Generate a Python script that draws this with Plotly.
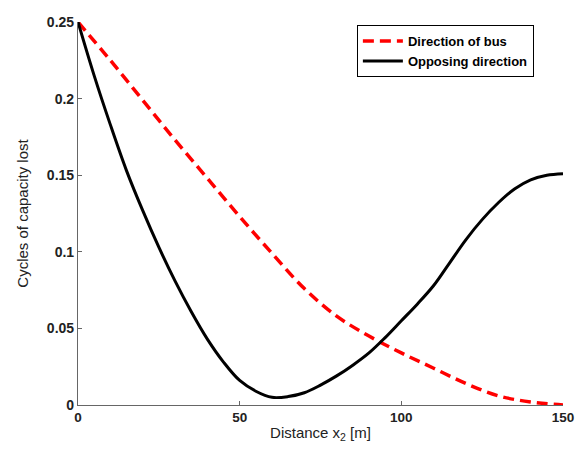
import plotly.graph_objects as go

# Direction of bus (red dashed)
bus_x = [0, 10, 20, 30, 40, 50, 60, 70, 80, 90, 100, 110, 120, 130, 140, 150]
bus_y = [0.250, 0.225, 0.199, 0.173, 0.148, 0.123, 0.099, 0.076, 0.058, 0.045,
         0.034, 0.024, 0.014, 0.006, 0.002, 0.000]

# Opposing direction (black solid)
opp_x = [0, 5, 10, 15, 20, 25, 30, 35, 40, 45, 50, 55, 60, 65, 70, 75, 80, 85,
         90, 95, 100, 105, 110, 115, 120, 125, 130, 135, 140, 145, 150]
opp_y = [0.250, 0.215, 0.183, 0.153, 0.127, 0.103, 0.081, 0.061, 0.043, 0.028,
         0.016, 0.009, 0.005, 0.0055, 0.008, 0.013, 0.019, 0.026, 0.034, 0.044,
         0.055, 0.066, 0.078, 0.093, 0.108, 0.121, 0.132, 0.141, 0.147, 0.150, 0.151]

x_ticks = [0, 50, 100, 150]
y_ticks = [0, 0.05, 0.1, 0.15, 0.2, 0.25]
y_tick_labels = ["0", "0.05", "0.1", "0.15", "0.2", "0.25"]

fig = go.Figure()
fig.add_trace(go.Scatter(x=bus_x, y=bus_y, mode="lines", name="Direction of bus",
                         line=dict(color="#ff0000", width=3.5, dash="11px,6px", shape="spline")))
fig.add_trace(go.Scatter(x=opp_x, y=opp_y, mode="lines", name="Opposing direction",
                         line=dict(color="#000000", width=3, shape="spline")))

axis_common = dict(showline=True, linecolor="#666666", linewidth=1.2, mirror=False,
                   ticks="inside", ticklen=4, tickcolor="#666666", showgrid=False,
                   zeroline=False, automargin=False)

fig.update_layout(
    width=567, height=440,
    margin=dict(l=70, r=12, t=14, b=43),
    paper_bgcolor="white", plot_bgcolor="white",
    font=dict(family="Arial", color="#222222"),
    xaxis=dict(range=[0, 150], tickvals=x_ticks, ticktext=[str(t) for t in x_ticks],
               tickfont=dict(family="Arial", size=13.5, color="#222222", weight="bold"),
               title=dict(text="Distance x<sub>2</sub> [m]", font=dict(size=15), standoff=3),
               **axis_common),
    yaxis=dict(range=[0, 0.25], tickvals=y_ticks, ticktext=y_tick_labels,
               tickfont=dict(family="Arial", size=14, color="#222222", weight="bold"),
               title=dict(text="Cycles of capacity lost", font=dict(size=15), standoff=14),
               **axis_common),
    legend=dict(x=0.575, y=0.992, xanchor="left", yanchor="top",
                bordercolor="#000000", borderwidth=1, bgcolor="white",
                font=dict(family="Arial", size=13, color="#000000", weight="bold"),
                tracegroupgap=0, itemwidth=40),
    showlegend=True,
)

fig.write_html("out.html")
